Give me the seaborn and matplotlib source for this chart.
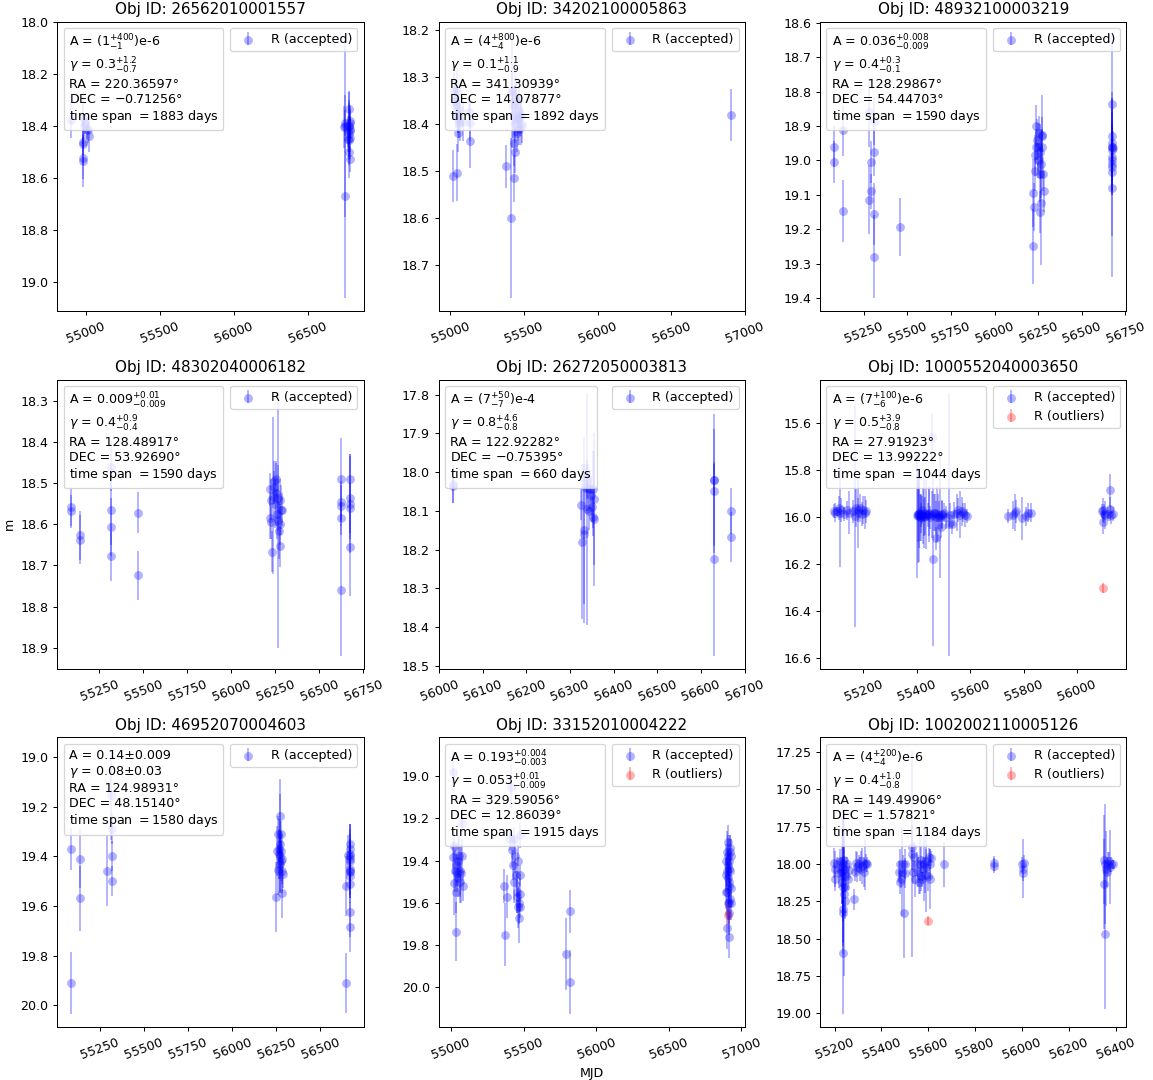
import matplotlib
matplotlib.use("Agg")
import matplotlib.pyplot as plt
import seaborn as sns
import pandas as pd
from matplotlib.offsetbox import AnchoredText
from matplotlib.legend_handler import HandlerTuple

titles = ["Obj ID: 26562010001557", "Obj ID: 34202100005863", "Obj ID: 48932100003219",
          "Obj ID: 48302040006182", "Obj ID: 26272050003813", "Obj ID: 1000552040003650",
          "Obj ID: 46952070004603", "Obj ID: 33152010004222", "Obj ID: 1002002110005126"]

infos = [
    "A = $(1^{+400}_{-1})$e-6\n$\\gamma$ = 0.3$^{+1.2}_{-0.7}$\nRA = 220.36597°\nDEC = $-$0.71256°\ntime span $=$1883 days",
    "A = $(4^{+800}_{-4})$e-6\n$\\gamma$ = 0.1$^{+1.1}_{-0.9}$\nRA = 341.30939°\nDEC = 14.07877°\ntime span $=$1892 days",
    "A = 0.036$^{+0.008}_{-0.009}$\n$\\gamma$ = 0.4$^{+0.3}_{-0.1}$\nRA = 128.29867°\nDEC = 54.44703°\ntime span $=$1590 days",
    "A = 0.009$^{+0.01}_{-0.009}$\n$\\gamma$ = 0.4$^{+0.9}_{-0.4}$\nRA = 128.48917°\nDEC = 53.92690°\ntime span $=$1590 days",
    "A = $(7^{+50}_{-7})$e-4\n$\\gamma$ = 0.8$^{+4.6}_{-0.8}$\nRA = 122.92282°\nDEC = $-$0.75395°\ntime span $=$660 days",
    "A = $(7^{+100}_{-6})$e-6\n$\\gamma$ = 0.5$^{+3.9}_{-0.8}$\nRA = 27.91923°\nDEC = 13.99222°\ntime span $=$1044 days",
    "A = 0.14±0.009\n$\\gamma$ = 0.08±0.03\nRA = 124.98931°\nDEC = 48.15140°\ntime span $=$1580 days",
    "A = 0.193$^{+0.004}_{-0.003}$\n$\\gamma$ = 0.053$^{+0.01}_{-0.009}$\nRA = 329.59056°\nDEC = 12.86039°\ntime span $=$1915 days",
    "A = $(4^{+200}_{-4})$e-6\n$\\gamma$ = 0.4$^{+1.0}_{-0.8}$\nRA = 149.49906°\nDEC = 1.57821°\ntime span $=$1184 days",
]

# ---- panel 1
t1 = [54900, 54977, 54978, 54980, 54979, 54977, 54986, 54995, 55005, 55016, 55023,
      56744, 56749, 56752, 56749, 56770, 56772, 56776, 56778, 56781, 56782, 56783, 56783, 56781, 56783,
      56780, 56783, 56779, 56782]
m1 = [18.377, 18.370, 18.462, 18.470, 18.522, 18.535, 18.40, 18.39, 18.41, 18.415, 18.44,
      18.405, 18.67, 18.39, 18.40, 18.42, 18.45, 18.50, 18.40, 18.335, 18.38, 18.41, 18.445, 18.455, 18.525,
      18.40, 18.42, 18.43, 18.39]
e1 = [0.07, 0.10, 0.05, 0.08, 0.08, 0.10, 0.05, 0.04, 0.04, 0.05, 0.06,
      0.08, 0.39, 0.05, 0.35, 0.06, 0.05, 0.10, 0.13, 0.07, 0.06, 0.05, 0.08, 0.06, 0.05,
      0.10, 0.08, 0.12, 0.06]

# ---- panel 2
t2 = [55015, 55045, 55023, 55030, 55036, 55043, 55050, 55054, 55059, 55050,
      55064, 55068, 55086, 55125, 55136, 55136,
      55377, 55409, 55415, 55420, 55422, 55427, 55431, 55434, 55436, 55438,
      55440, 55445, 55450, 55454, 55459, 55463, 55468, 55472, 55477, 55481,
      55484, 56907]
m2 = [18.51, 18.503, 18.33, 18.35, 18.36, 18.33, 18.38, 18.39, 18.40, 18.42,
      18.37, 18.395, 18.395, 18.375, 18.397, 18.437,
      18.49, 18.60, 18.33, 18.33, 18.36, 18.38, 18.44, 18.515, 18.345, 18.40,
      18.46, 18.35, 18.385, 18.42, 18.39, 18.41, 18.37, 18.385, 18.40, 18.38,
      18.405, 18.38]
e2 = [0.055, 0.06, 0.04, 0.04, 0.05, 0.05, 0.04, 0.03, 0.03, 0.04,
      0.035, 0.04, 0.04, 0.03, 0.04, 0.057,
      0.045, 0.17, 0.04, 0.12, 0.04, 0.05, 0.05, 0.05, 0.08, 0.04,
      0.045, 0.05, 0.04, 0.04, 0.045, 0.035, 0.05, 0.04, 0.045, 0.04,
      0.035, 0.055]

# ---- panel 3
t3 = [55081, 55081, 55135, 55135, 55279, 55279, 55290, 55290, 55307, 55307, 55307, 55307, 55460,
      56219, 56221, 56225, 56229, 56232, 56236, 56240, 56244, 56248, 56251, 56255, 56259, 56259,
      56263, 56267, 56267, 56270, 56274, 56274, 56278, 56282,
      56674, 56674, 56674, 56676, 56672, 56674, 56674, 56674,
      56674, 56674, 56674, 56674, 56674]
m3 = [18.96, 19.005, 18.913, 19.146, 18.86, 19.114, 19.005, 19.09, 18.885, 18.975, 19.157, 19.28, 19.194,
      19.25, 19.095, 19.135, 18.985, 19.03, 18.96, 18.90, 18.94, 19.00, 18.96, 18.92, 19.04, 19.15,
      18.975, 19.01, 19.125, 18.93, 18.96, 18.925, 19.04, 19.09,
      18.835, 18.93, 18.96, 18.965, 18.99, 19.01, 19.035, 19.08,
      18.95, 18.97, 19.00, 19.02, 18.96]
e3 = [0.06, 0.06, 0.075, 0.09, 0.10, 0.10, 0.06, 0.05, 0.07, 0.07, 0.09, 0.12, 0.085,
      0.11, 0.10, 0.07, 0.06, 0.06, 0.05, 0.06, 0.06, 0.05, 0.07, 0.05, 0.08, 0.06,
      0.08, 0.10, 0.18, 0.12, 0.05, 0.05, 0.05, 0.06,
      0.20, 0.04, 0.10, 0.05, 0.04, 0.06, 0.05, 0.26,
      0.15, 0.12, 0.10, 0.20, 0.08]

# ---- panel 4
t4 = [55090, 55090, 55142, 55142, 55316, 55316, 55316, 55316, 55468, 55468,
      56222, 56222, 56226, 56226, 56231, 56235, 56241, 56245, 56248, 56252,
      56256, 56260, 56265, 56267, 56271, 56275, 56279, 56283, 56279, 56288,
      56626, 56626, 56626, 56626, 56626, 56673, 56673, 56673, 56673, 56673]
m4 = [18.558, 18.568, 18.627, 18.637, 18.46, 18.565, 18.607, 18.678, 18.572, 18.724,
      18.515, 18.585, 18.54, 18.595, 18.667, 18.53, 18.495, 18.51, 18.55, 18.525,
      18.49, 18.575, 18.59, 18.535, 18.615, 18.54, 18.60, 18.565, 18.653, 18.565,
      18.49, 18.545, 18.555, 18.585, 18.76, 18.49, 18.535, 18.55, 18.56, 18.655]
e4 = [0.045, 0.04, 0.06, 0.06, 0.06, 0.085, 0.07, 0.06, 0.05, 0.06,
      0.04, 0.05, 0.05, 0.04, 0.05, 0.19, 0.05, 0.04, 0.06, 0.08,
      0.04, 0.06, 0.31, 0.08, 0.07, 0.05, 0.05, 0.06, 0.05, 0.04,
      0.10, 0.05, 0.05, 0.04, 0.16, 0.06, 0.10, 0.12, 0.06, 0.12]

# ---- panel 5
t5 = [56031, 56031, 56325, 56328, 56332, 56333, 56336, 56338, 56339, 56341, 56343, 56345,
      56347, 56350, 56352, 56353, 56354, 56355, 56629, 56629, 56629, 56629, 56669, 56669]
m5 = [18.031, 18.035, 18.085, 18.18, 18.15, 18.16, 18.04, 18.095, 18.02, 18.04, 18.10, 18.045,
      18.06, 18.09, 18.115, 18.045, 18.07, 18.12, 18.02, 18.02, 18.05, 18.225, 18.10, 18.167]
e5 = [0.05, 0.045, 0.04, 0.20, 0.24, 0.18, 0.06, 0.30, 0.05, 0.06, 0.05, 0.05,
      0.05, 0.04, 0.05, 0.10, 0.17, 0.175, 0.17, 0.04, 0.16, 0.25, 0.06, 0.065]

# ---- panel 6
t6 = [55090, 55095, 55102, 55108, 55112, 55117, 55126, 55137, 55147, 55160,
      55170, 55174, 55178, 55181, 55187, 55193, 55200, 55205, 55210,
      55402, 55405, 55408, 55411, 55414, 55417, 55420, 55423, 55428, 55434,
      55440, 55446, 55451, 55458, 55462, 55464, 55470, 55473, 55476, 55482,
      55486, 55490, 55496, 55501, 55508, 55520, 55526, 55531, 55538, 55550,
      55556, 55562, 55568, 55574, 55580, 55587,
      55740, 55762, 55766, 55770, 55792, 55808, 55817, 55827,
      56092, 56097, 56097, 56101, 56106, 56115, 56122, 56125, 56128, 56133,
      55404, 55409, 55415, 55425, 55432, 55444, 55455, 55468, 55479, 55493]
m6 = [15.975, 15.98, 15.975, 15.96, 15.98, 15.97, 15.985, 15.97, 15.98, 15.975,
      15.995, 15.96, 15.97, 15.98, 15.96, 15.985, 15.97, 15.98, 15.975,
      15.99, 15.995, 15.98, 16.0, 15.985, 15.99, 15.97, 15.995, 16.0, 15.985,
      15.99, 15.98, 16.0, 15.66, 16.176, 15.98, 16.0, 16.09, 15.985, 15.99,
      16.0, 16.04, 15.985, 15.98, 16.0, 16.03, 15.99, 16.03, 15.985, 15.98,
      15.97, 15.99, 15.975, 15.98, 15.99, 15.995,
      15.995, 15.99, 15.98, 15.975, 16.005, 15.995, 15.98, 15.98,
      15.975, 15.97, 16.02, 15.985, 15.99, 15.985, 15.965, 15.885, 15.99, 15.985,
      15.985, 15.99, 16.0, 15.98, 15.995, 15.985, 15.99, 15.98, 16.0, 15.99]
e6 = [0.03, 0.04, 0.02, 0.05, 0.23, 0.05, 0.03, 0.04, 0.09, 0.05,
      0.47, 0.08, 0.05, 0.15, 0.06, 0.05, 0.06, 0.07, 0.05,
      0.27, 0.20, 0.15, 0.10, 0.08, 0.05, 0.06, 0.12, 0.08, 0.15,
      0.05, 0.10, 0.05, 0.10, 0.37, 0.08, 0.07, 0.05, 0.12, 0.06,
      0.26, 0.05, 0.06, 0.04, 0.05, 0.56, 0.05, 0.04, 0.05, 0.08,
      0.05, 0.10, 0.06, 0.04, 0.05, 0.03,
      0.03, 0.06, 0.08, 0.05, 0.09, 0.04, 0.04, 0.04,
      0.03, 0.05, 0.05, 0.04, 0.06, 0.03, 0.05, 0.07, 0.04, 0.03,
      0.12, 0.20, 0.10, 0.15, 0.08, 0.12, 0.10, 0.08, 0.10, 0.06]
to6 = [56096]
mo6 = [16.30]
eo6 = [0.02]

# ---- panel 7
t7 = [55087, 55087, 55136, 55136, 55288, 55314, 55316, 55318, 55320,
      56250, 56254, 56258, 56261, 56265, 56269, 56273, 56273, 56277, 56279, 56282, 56284, 56288,
      56646, 56646, 56667, 56667, 56667, 56667, 56667, 56667, 56667, 56667, 56667, 56659,
      56667, 56667, 56667, 56667, 56263, 56270, 56275, 56280]
m7 = [19.37, 19.91, 19.41, 19.57, 19.46, 19.155, 19.29, 19.40, 19.50,
      19.565, 19.38, 19.455, 19.31, 19.37, 19.40, 19.24, 19.35, 19.42, 19.31, 19.46, 19.55, 19.47,
      19.52, 19.91, 19.35, 19.37, 19.40, 19.41, 19.46, 19.465, 19.51, 19.625, 19.685, 19.395,
      19.39, 19.42, 19.45, 19.48, 19.39, 19.43, 19.38, 19.41]
e7 = [0.085, 0.125, 0.12, 0.13, 0.14, 0.18, 0.06, 0.06, 0.06,
      0.14, 0.10, 0.10, 0.07, 0.12, 0.14, 0.15, 0.20, 0.08, 0.05, 0.09, 0.10, 0.06,
      0.12, 0.12, 0.08, 0.10, 0.13, 0.10, 0.07, 0.09, 0.08, 0.10, 0.10, 0.08,
      0.10, 0.08, 0.12, 0.09, 0.10, 0.12, 0.08, 0.10]

# ---- panel 8
t8 = [55011, 55013, 55018, 55023, 55027, 55032, 55032, 55036, 55041, 55046,
      55050, 55055, 55059, 55064, 55068, 55073, 55078, 55082,
      55363, 55370, 55382, 55409, 55416, 55421, 55428, 55432, 55437, 55441,
      55446, 55451, 55455, 55460, 55464, 55467, 55469, 55474, 55478, 55478, 55478,
      55789, 55818, 55818,
      56894, 56894, 56898, 56903, 56905, 56907, 56912, 56912, 56917, 56917,
      56921, 56921, 56925, 56925, 56929, 56912,
      56896, 56899, 56901, 56904, 56908, 56910, 56914, 56916, 56919, 56923]
m8 = [18.98, 19.385, 19.33, 19.505, 19.45, 19.736, 19.42, 19.55, 19.46, 19.40,
      19.48, 19.38, 19.50, 19.45, 19.46, 19.38, 19.22, 19.52,
      19.52, 19.75, 19.57, 19.30, 19.05, 19.35, 19.42, 19.50, 19.30, 19.38,
      19.47, 19.55, 19.57, 19.62, 19.40, 19.67, 19.60, 19.28, 19.47, 19.56, 19.62,
      19.84, 19.64, 19.975,
      19.47, 19.55, 19.72, 19.36, 19.31, 19.42, 19.40, 19.50, 19.60, 19.76,
      19.45, 19.34, 19.38, 19.53, 19.60, 19.65,
      19.40, 19.45, 19.55, 19.48, 19.38, 19.60, 19.44, 19.52, 19.36, 19.58]
e8 = [0.10, 0.08, 0.07, 0.15, 0.10, 0.14, 0.10, 0.10, 0.09, 0.10,
      0.09, 0.10, 0.10, 0.12, 0.14, 0.08, 0.07, 0.07,
      0.08, 0.15, 0.10, 0.05, 0.10, 0.08, 0.07, 0.10, 0.06, 0.08,
      0.06, 0.10, 0.08, 0.10, 0.08, 0.12, 0.10, 0.06, 0.05, 0.08, 0.05,
      0.17, 0.10, 0.15,
      0.08, 0.08, 0.10, 0.10, 0.08, 0.07, 0.10, 0.08, 0.10, 0.10,
      0.08, 0.06, 0.08, 0.09, 0.08, 0.10,
      0.08, 0.07, 0.09, 0.08, 0.10, 0.08, 0.07, 0.09, 0.08, 0.10]
to8 = [56906]
mo8 = [19.655]
eo8 = [0.05]

# ---- panel 9
t9 = [55198, 55200, 55204, 55210, 55217, 55224, 55229, 55232, 55236, 55236,
      55236, 55239, 55242, 55245, 55246, 55250, 55253, 55256, 55260, 55284,
      55288, 55292, 55298, 55303, 55310, 55314, 55318, 55324, 55328, 55333, 55338,
      55474, 55478, 55481, 55484, 55488, 55492, 55495, 55499, 55502,
      55531, 55531, 55535, 55538, 55544, 55550, 55557, 55561, 55564, 55568,
      55571, 55575, 55578, 55582, 55587, 55590, 55592, 55599, 55603, 55606,
      55609, 55613, 55667, 55880, 55880, 56000, 56004, 56004, 56007,
      56350, 56352, 56355, 56355, 56359, 56363, 56366, 56373, 56377, 56382, 56387,
      55234, 55236, 55238, 55240, 55237, 55235]
m9 = [17.99, 18.03, 18.10, 18.00, 18.06, 17.98, 18.05, 18.12, 18.00, 18.325,
      18.593, 18.20, 18.03, 18.15, 18.25, 18.08, 18.00, 18.10, 18.04, 18.235,
      18.05, 17.99, 18.02, 18.00, 18.03, 17.98, 18.01, 18.05, 18.00, 17.99, 18.00,
      18.05, 18.12, 18.00, 18.10, 18.05, 18.00, 18.327, 18.06, 18.00,
      17.886, 17.93, 18.05, 17.95, 18.10, 18.00, 18.05, 18.12, 18.00, 18.08,
      17.97, 18.10, 18.03, 18.00, 18.07, 17.98, 18.02, 18.08, 17.95, 18.10,
      18.00, 17.96, 18.00, 17.995, 18.01, 18.00, 18.03, 18.06, 17.99,
      17.97, 18.135, 18.00, 18.47, 18.03, 18.05, 18.00, 17.98, 18.02, 18.00, 18.00,
      18.02, 18.08, 18.15, 17.97, 18.05, 18.30]
e9 = [0.10, 0.12, 0.08, 0.05, 0.10, 0.08, 0.10, 0.15, 0.35, 0.20,
      0.41, 0.55, 0.15, 0.20, 0.12, 0.10, 0.05, 0.07, 0.05, 0.07,
      0.06, 0.08, 0.10, 0.06, 0.08, 0.07, 0.12, 0.10, 0.17, 0.06, 0.05,
      0.07, 0.08, 0.10, 0.06, 0.30, 0.06, 0.30, 0.10, 0.10,
      0.15, 0.69, 0.08, 0.10, 0.12, 0.08, 0.10, 0.08, 0.20, 0.10,
      0.09, 0.05, 0.08, 0.25, 0.12, 0.08, 0.30, 0.10, 0.06, 0.20,
      0.10, 0.05, 0.15, 0.05, 0.05, 0.05, 0.20, 0.05, 0.05,
      0.30, 0.30, 0.40, 0.50, 0.25, 0.10, 0.08, 0.06, 0.25, 0.05, 0.03,
      0.25, 0.30, 0.20, 0.15, 0.50, 0.30]
to9 = [55599]
mo9 = [18.38]
eo9 = [0.03]

panels = [
    (t1, m1, e1, [], [], []),
    (t2, m2, e2, [], [], []),
    (t3, m3, e3, [], [], []),
    (t4, m4, e4, [], [], []),
    (t5, m5, e5, [], [], []),
    (t6, m6, e6, to6, mo6, eo6),
    (t7, m7, e7, [], [], []),
    (t8, m8, e8, to8, mo8, eo8),
    (t9, m9, e9, to9, mo9, eo9),
]

DPI = 91
fig, axes = plt.subplots(3, 3, figsize=(1153 / DPI, 1080 / DPI), dpi=DPI)
fig.subplots_adjust(left=0.0497, right=0.977, top=0.980, bottom=0.049,
                    wspace=0.245, hspace=0.236)

for ax, title, info, (t, m, e, to, mo, eo) in zip(axes.flat, titles, infos, panels):
    df = pd.DataFrame({"MJD": t, "m": m})
    sns.scatterplot(data=df, x="MJD", y="m", ax=ax, color="b", alpha=0.3,
                    s=49, linewidth=0, legend=False)
    pc = ax.collections[-1]
    eb = ax.errorbar(t, m, yerr=e, fmt="none", ecolor="b", alpha=0.3, elinewidth=1.5)
    handles = [(pc, eb)]
    labels = ["R (accepted)"]
    if len(to):
        dfo = pd.DataFrame({"MJD": to, "m": mo})
        sns.scatterplot(data=dfo, x="MJD", y="m", ax=ax, color="r", alpha=0.3,
                        s=49, linewidth=0, legend=False)
        pco = ax.collections[-1]
        ebo = ax.errorbar(to, mo, yerr=eo, fmt="none", ecolor="r", alpha=0.3, elinewidth=1.5)
        handles.append((pco, ebo))
        labels.append("R (outliers)")
    ax.invert_yaxis()
    ax.set_title(title)
    ax.set_xlabel("")
    ax.set_ylabel("")
    ax.tick_params(axis="x", labelrotation=20)
    ax.legend(handles, labels, loc="upper right",
              handler_map={tuple: HandlerTuple(ndivide=1)})
    at = AnchoredText(info, loc="upper left", prop=dict(size=10),
                      frameon=True, pad=0.4, borderpad=0.5)
    at.patch.set_boxstyle("round,pad=0,rounding_size=0.2")
    at.patch.set_edgecolor("0.8")
    at.patch.set_facecolor("white")
    at.patch.set_alpha(0.8)
    ax.add_artist(at)

axes[1, 0].set_ylabel("m")
axes[2, 1].set_xlabel("MJD")

fig.savefig("out.png", dpi=DPI)
